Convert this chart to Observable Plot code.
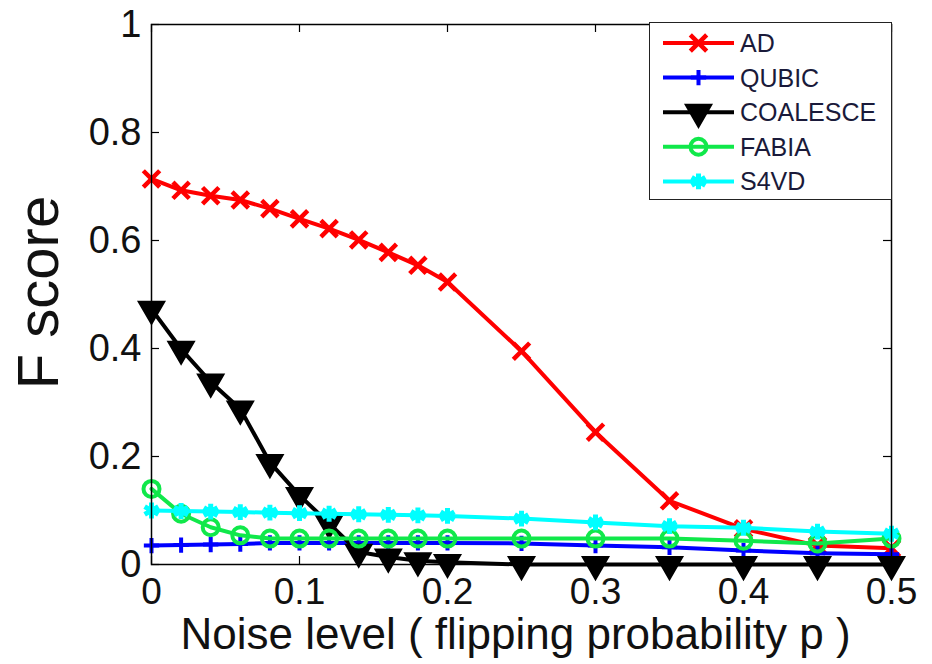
<!DOCTYPE html>
<html>
<head>
<meta charset="utf-8">
<script src="https://cdn.jsdelivr.net/npm/d3@7"></script>
<script src="https://cdn.jsdelivr.net/npm/@observablehq/plot@0.6"></script>
<style>
  html, body { margin: 0; padding: 0; background: #fff; }
  #wrap { position: relative; width: 932px; height: 664px; font-family: "Liberation Sans", Arial, sans-serif; }
  #legend { position: absolute; left: 649px; top: 22px; width: 241px; height: 176px; border: 1.5px solid #222; background: #fff; }
</style>
</head>
<body>
<div id="wrap"><div id="legend"></div></div>
<script>
// ---- data ----
const noise = [0, 0.02, 0.04, 0.06, 0.08, 0.1, 0.12, 0.14, 0.16, 0.18, 0.2, 0.25, 0.3, 0.35, 0.4, 0.45, 0.5];
const AD       = [0.714, 0.693, 0.683, 0.675, 0.659, 0.640, 0.622, 0.601, 0.578, 0.554, 0.523, 0.395, 0.245, 0.118, 0.066, 0.035, 0.030];
const QUBIC    = [0.035, 0.036, 0.037, 0.038, 0.040, 0.040, 0.040, 0.040, 0.040, 0.040, 0.040, 0.039, 0.035, 0.032, 0.026, 0.021, 0.019];
const COALESCE = [0.473, 0.399, 0.338, 0.288, 0.189, 0.128, 0.076, 0.023, 0.014, 0.007, 0.004, 0, 0, 0, 0, 0, 0];
const FABIA    = [0.140, 0.094, 0.069, 0.054, 0.048, 0.048, 0.048, 0.048, 0.048, 0.048, 0.048, 0.048, 0.048, 0.048, 0.044, 0.039, 0.048];
const S4VD     = [0.100, 0.099, 0.098, 0.097, 0.096, 0.095, 0.094, 0.093, 0.092, 0.091, 0.090, 0.085, 0.078, 0.071, 0.068, 0.061, 0.057];
const seriesNames = ["AD", "QUBIC", "COALESCE", "FABIA", "S4VD"];
const xTicks = [0, 0.1, 0.2, 0.3, 0.4, 0.5];
const yTicks = [0, 0.2, 0.4, 0.6, 0.8, 1];
const xLabel = "Noise level ( flipping probability p )";
const yLabel = "F score";

// ---- styles ----
const styles = {
  AD:       {color: "#ff0000", symbol: "times",    r: 7.5, fill: "none", sw: 4.5},
  QUBIC:    {color: "#0000ff", symbol: "plus",     r: 5,   fill: "none", sw: 4},
  COALESCE: {color: "#000000", symbol: "triangle", r: 9.5, fill: "#000000", sw: 2, rotate: 180},
  FABIA:    {color: "#10e84a", symbol: "circle",   r: 8,   fill: "none", sw: 4},
  S4VD:     {color: "#00ffff", symbol: "asterisk", r: 7.5, fill: "none", sw: 5}
};
const valuesBy = {AD, QUBIC, COALESCE, FABIA, S4VD};

const W = 932, H = 664, mL = 151, mR = 41, mT = 24, mB = 100;
const fw = W - mL - mR, fh = H - mT - mB;

const marks = [];
for (const name of seriesNames) {
  const s = styles[name];
  const rows = noise.map((x, i) => ({x, y: valuesBy[name][i]}));
  marks.push(Plot.line(rows, {x: "x", y: "y", stroke: s.color, strokeWidth: 4, strokeLinejoin: "round"}));
  marks.push(Plot.dot(rows, {x: "x", y: "y", symbol: () => s.symbol, r: s.r, stroke: s.color, fill: s.fill,
    strokeWidth: s.sw, rotate: s.rotate || 0}));
}

const chart = Plot.plot({
  width: W, height: H,
  marginLeft: mL, marginRight: mR, marginTop: mT, marginBottom: mB,
  style: {fontFamily: "'Liberation Sans', Arial, sans-serif", background: "transparent", overflow: "visible"},
  x: {domain: [0, 0.5]},
  y: {domain: [0, 1]},
  symbol: {type: "identity"},
  marks: [
    Plot.tickX(xTicks, {x: d => d, insetTop: fh - 8, stroke: "black", strokeWidth: 1.2}),
    Plot.tickX(xTicks, {x: d => d, insetBottom: fh - 8, stroke: "black", strokeWidth: 1.2}),
    Plot.tickY(yTicks, {y: d => d, insetRight: fw - 8, stroke: "black", strokeWidth: 1.2}),
    Plot.tickY(yTicks, {y: d => d, insetLeft: fw - 8, stroke: "black", strokeWidth: 1.2}),
    Plot.axisX(xTicks, {tickSize: 0, tickPadding: 13, fontSize: 37, label: null, tickFormat: d => String(d), fill: "#111"}),
    Plot.axisY(yTicks, {tickSize: 0, tickPadding: 10, fontSize: 38, label: null, tickFormat: d => String(d), fill: "#111"}),
    Plot.text([yLabel], {frameAnchor: "left", textAnchor: "middle", dx: -112, dy: -2, rotate: -90, fontSize: 58, fill: "#111"}),
    Plot.text([xLabel], {frameAnchor: "bottom", textAnchor: "middle", dx: -6, dy: 84, fontSize: 44, fill: "#111"}),
    ...marks,
    Plot.frame({stroke: "black", strokeWidth: 1.5})
  ]
});
document.getElementById("wrap").prepend(chart);

// ---- legend ----
const lg = d3.select("#legend").append("svg").attr("width", 241).attr("height", 176);
const symMap = {times: d3.symbolTimes, plus: d3.symbolPlus, triangle: d3.symbolTriangle, circle: d3.symbolCircle, asterisk: d3.symbolAsterisk};
seriesNames.forEach((name, i) => {
  const s = styles[name];
  const y = 20 + i * 34.6;
  const g = lg.append("g").attr("transform", `translate(0,${y})`);
  g.append("line").attr("x1", 13).attr("x2", 84).attr("y1", 0).attr("y2", 0)
    .attr("stroke", s.color).attr("stroke-width", 4);
  g.append("path").attr("d", d3.symbol(symMap[s.symbol], Math.PI * s.r * s.r)())
    .attr("transform", `translate(48.5,0) rotate(${s.rotate || 0})`)
    .attr("fill", s.fill).attr("stroke", s.color).attr("stroke-width", s.sw);
  g.append("text").attr("x", 90).attr("y", 0).attr("dy", "0.36em")
    .attr("font-size", 25).attr("font-family", "'Liberation Sans', Arial, sans-serif").attr("fill", "#1a1a3a").text(name);
});
</script>
</body>
</html>
